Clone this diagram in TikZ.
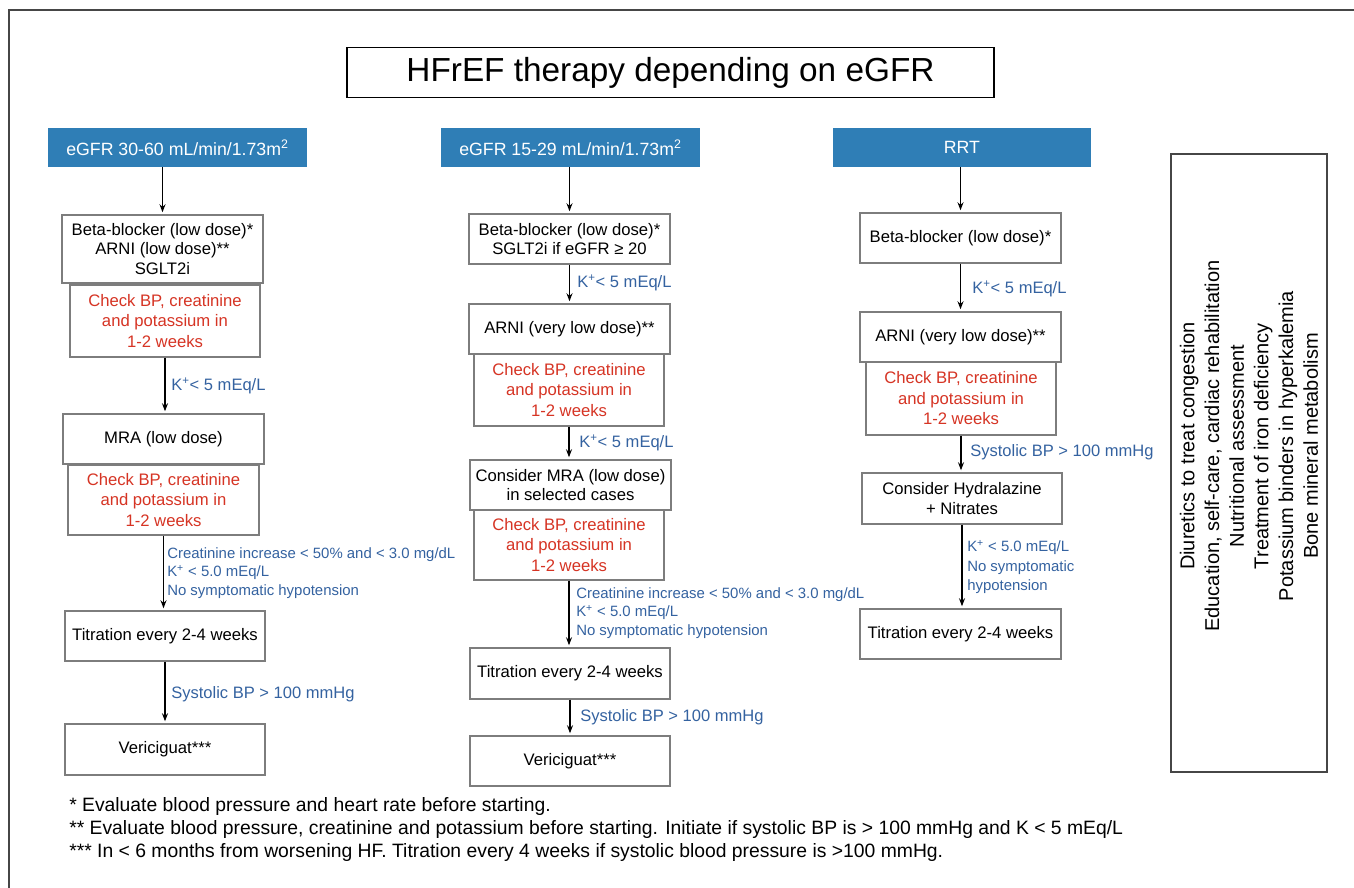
\documentclass[tikz,border=0pt]{standalone}
\usepackage{fontspec}
\setmainfont{Liberation Sans}
\usetikzlibrary{arrows.meta}

\definecolor{hdrblue}{RGB}{47,126,182}
\definecolor{chkred}{RGB}{214,52,36}
\definecolor{condblue}{RGB}{52,98,160}
\definecolor{boxgrey}{RGB}{125,125,125}
\definecolor{framegrey}{RGB}{70,70,70}

% one pixel of the layout
\def\px{0.75pt}

\tikzset{
  hdr/.style={fill=hdrblue, text=white, inner sep=0pt, minimum width=259*\px, minimum height=39*\px, font=\fontsize{13.3}{16}\selectfont},
  drug/.style={draw=boxgrey, line width=1.1pt, fill=white, inner sep=0pt, align=center, minimum width=201*\px, minimum height=50*\px, font=\fontsize{12.5}{14.6}\selectfont},
  check/.style={drug, text=chkred, minimum width=190*\px, minimum height=71*\px, font=\fontsize{12.5}{15.4}\selectfont},
  cond/.style={text=condblue, anchor=west, inner sep=0pt, align=left, font=\fontsize{12.4}{14}\selectfont},
  condsmall/.style={cond, font=\fontsize{11.2}{14}\selectfont},
  arr/.style={-{Stealth[length=6pt,width=4.5pt]}, line width=0.9pt, shorten >=1.5pt},
}

\begin{document}
\begin{tikzpicture}[x=\px, y=-\px]
\useasboundingbox (0,0) rectangle (1354,888);

% frame and title
\draw[line width=1.5pt, framegrey] (9,888) -- (9,10) -- (1354,10);
\node[draw=black, line width=1.1pt, inner sep=0pt, minimum width=647*\px, minimum height=50*\px, font=\fontsize{25}{30}\selectfont] (title) at (670.5,72.5) {HFrEF therapy depending on eGFR};

% eGFR 30-60
\node[hdr] (h1) at (177.5,147.5) {eGFR 30-60 mL/min/1.73m\textsuperscript{2}};
\node[drug, minimum height=68*\px] (b11) at (162.5,249) {Beta-blocker (low dose)*\\ARNI (low dose)**\\SGLT2i};
\node[check, minimum height=72*\px] (c11) at (165,321) {Check BP, creatinine\\and potassium in\\1-2 weeks};
\node[drug] (m1) at (163.5,439) {MRA (low dose)};
\node[check, minimum width=191*\px, minimum height=70*\px] (c12) at (163.5,500) {Check BP, creatinine\\and potassium in\\1-2 weeks};
\node[drug, minimum width=200*\px] (t1) at (165,636) {Titration every 2-4 weeks};
\node[drug, minimum width=200*\px, minimum height=51*\px] (v1) at (165,749.5) {Vericiguat***};

\draw[arr] (h1.south -| b11) -- (b11);
\draw[arr] (c11.south) -- (c11.south |- m1.north);
\draw[arr] (c12.south) -- (c12.south |- t1.north);
\draw[arr] (t1) -- (v1);
\node[cond] (k11) at (171,386) {K\textsuperscript{+}< 5 mEq/L};
\node[condsmall] (k12) at (167,573) {Creatinine increase < 50\% and < 3.0 mg/dL\\K\textsuperscript{+} < 5.0 mEq/L\\No symptomatic hypotension};
\node[cond] (s1) at (171,694) {Systolic BP > 100 mmHg};

% eGFR 15-29
\node[hdr] (h2) at (570.5,147.5) {eGFR 15-29 mL/min/1.73m\textsuperscript{2}};
\node[drug] (b21) at (569.5,239) {Beta-blocker (low dose)*\\SGLT2i if eGFR ≥ 20};
\node[drug] (a21) at (569.5,329) {ARNI (very low dose)**};
\node[check, minimum height=72*\px] (c21) at (569,390) {Check BP, creatinine\\and potassium in\\1-2 weeks};
\node[drug] (m2) at (570.5,485) {Consider MRA (low dose)\\in selected cases};
\node[check, minimum height=70*\px] (c22) at (569,545) {Check BP, creatinine\\and potassium in\\1-2 weeks};
\node[drug, minimum width=200*\px, minimum height=51*\px] (t2) at (570,673.5) {Titration every 2-4 weeks};
\node[drug, minimum width=200*\px] (v2) at (570,761) {Vericiguat***};

\draw[arr] (h2.south -| b21) -- (b21);
\draw[arr] (b21) -- (a21);
\draw[arr] (c21.south) -- (c21.south |- m2.north);
\draw[arr] (c22.south) -- (c22.south |- t2.north);
\draw[arr] (t2) -- (v2);
\node[cond] (k21) at (577,283) {K\textsuperscript{+}< 5 mEq/L};
\node[cond] (k22) at (579,443) {K\textsuperscript{+}< 5 mEq/L};
\node[condsmall] (k23) at (576,613) {Creatinine increase < 50\% and < 3.0 mg/dL\\K\textsuperscript{+} < 5.0 mEq/L\\No symptomatic hypotension};
\node[cond] (s2) at (580,717) {Systolic BP > 100 mmHg};

% RRT
\node[hdr, minimum width=258*\px] (h3) at (962,147.5) {RRT};
\node[drug] (b31) at (960.5,238) {Beta-blocker (low dose)*};
\node[drug] (a31) at (960.5,337) {ARNI (very low dose)**};
\node[check, minimum height=73*\px] (c31) at (961,398.5) {Check BP, creatinine\\and potassium in\\1-2 weeks};
\node[drug, minimum width=200*\px, minimum height=51*\px] (hy3) at (962,498.5) {Consider Hydralazine\\+ Nitrates};
\node[drug] (t3) at (960.5,634) {Titration every 2-4 weeks};

\draw[arr] (h3.south -| b31) -- (b31);
\draw[arr] (b31) -- (a31);
\draw[arr] (c31.south) -- (c31.south |- hy3.north);
\draw[arr] (hy3.south) -- (hy3.south |- t3.north);
\node[cond] (k31) at (972,289) {K\textsuperscript{+}< 5 mEq/L};
\node[cond] (s3) at (970,452) {Systolic BP > 100 mmHg};
\node[condsmall, font=\fontsize{11.2}{14.6}\selectfont] (k32) at (967,567) {K\textsuperscript{+} < 5.0 mEq/L\\No symptomatic\\hypotension};

% general measures
\node[draw=framegrey, line width=1.1pt, inner sep=0pt, minimum width=156*\px, minimum height=618*\px] (side) at (1249,463) {};
\node[rotate=90, align=center, inner sep=0pt, font=\fontsize{15}{18.5}\selectfont] (sidetxt) at (1249,446) {Diuretics to treat congestion\\Education, self-care, cardiac rehabilitation\\Nutritional assessment\\Treatment of iron deficiency\\Potassium binders in hyperkalemia\\Bone mineral metabolism};

% footnotes
\node[anchor=west, align=left, inner sep=0pt, font=\fontsize{14.5}{17.25}\selectfont] (notes) at (69,829) {* Evaluate blood pressure and heart rate before starting.\\** Evaluate blood pressure, creatinine and potassium before starting. Initiate if systolic BP is > 100 mmHg and K < 5 mEq/L\\*** In < 6 months from worsening HF. Titration every 4 weeks if systolic blood pressure is >100 mmHg.};
\end{tikzpicture}
\end{document}
